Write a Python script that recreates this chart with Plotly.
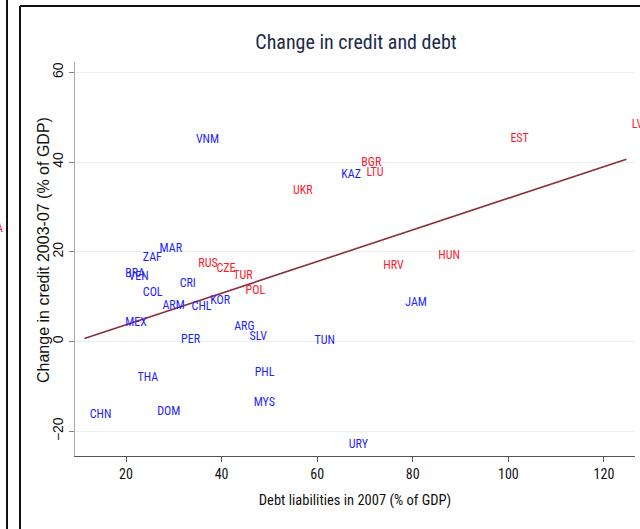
import numpy as np
import plotly.graph_objects as go

# Country codes, debt liabilities 2007 (% of GDP) and credit change 2003-07 (% of GDP)
countries = ["VNM", "EST", "LVA", "BGR", "KAZ", "LTU", "UKR", "MAR", "ZAF", "BRA",
             "VEN", "CRI", "COL", "RUS", "CZE", "TUR", "POL", "ARM", "CHL", "KOR",
             "MEX", "ARG", "SLV", "PER", "HRV", "HUN", "JAM", "THA", "PHL", "MYS",
             "CHN", "DOM", "TUN", "URY"]
debt_2007 = [33.5, 99.3, 124.7, 68.1, 63.9, 69.2, 53.8, 25.9, 22.4, 18.7,
             19.4, 30.1, 22.4, 34.0, 37.8, 41.3, 43.9, 26.5, 32.6, 36.5,
             18.7, 41.5, 44.7, 30.4, 72.7, 84.2, 77.3, 21.3, 45.8, 45.6,
             11.3, 25.4, 58.3, 65.5]
credit_change = [44.9, 45.2, 48.3, 39.7, 37.1, 37.5, 33.6, 20.6, 18.6, 15.0,
                 14.3, 12.9, 10.8, 17.3, 16.1, 14.7, 11.3, 7.9, 7.8, 9.1,
                 4.2, 3.2, 1.0, 0.4, 16.9, 19.1, 8.6, -8.2, -7.0, -13.6,
                 -16.3, -15.8, 0.2, -23.0]
# Emerging Europe group is drawn in red, the rest in blue
europe = {"EST", "LVA", "BGR", "LTU", "UKR", "RUS", "CZE", "TUR", "POL", "HRV", "HUN"}

x_ticks = [20, 40, 60, 80, 100, 120]
y_ticks = [-20, 0, 20, 40, 60]

BLUE = "#1f1fff"
RED = "#ff1a2e"
FIT = "#8a2f3d"
NARROW = "Roboto Condensed, Liberation Sans Narrow, Arial Narrow, DejaVu Sans Condensed, sans-serif"
REGULAR = "Liberation Sans, Arial, sans-serif"

W, H = 640, 529
L, R, T, B = 75, 5, 62, 73

fig = go.Figure()

x = np.array(debt_2007)
y = np.array(credit_change)

# Linear fit across the observed range
slope, intercept = np.polyfit(x, y, 1)
xf = np.array([x.min(), x.max()])
fig.add_trace(go.Scatter(x=xf, y=intercept + slope * xf, mode="lines",
                         line=dict(color=FIT, width=1.6), hoverinfo="skip",
                         showlegend=False))

for grp, col in [(True, RED), (False, BLUE)]:
    idx = [i for i, c in enumerate(countries) if (c in europe) == grp]
    fig.add_trace(go.Scatter(
        x=[debt_2007[i] for i in idx],
        y=[credit_change[i] for i in idx],
        text=[countries[i] for i in idx],
        mode="markers+text",
        marker=dict(size=7, color="rgba(0,0,0,0)"),
        textposition="middle right",
        textfont=dict(family=NARROW, size=12, color=col),
        cliponaxis=False,
        showlegend=False,
    ))

pw = W - L - R
ph = H - T - B


def px_x(p):
    return (p - L) / pw


def px_y(p):
    return (H - B - p) / ph


frame = dict(type="line", xref="paper", yref="paper", line=dict(color="#111111", width=2))
shapes = [
    dict(frame, x0=px_x(7), x1=px_x(7), y0=px_y(0), y1=px_y(H)),
    dict(frame, x0=px_x(20), x1=px_x(20), y0=px_y(6), y1=px_y(H)),
    dict(frame, x0=px_x(20), x1=px_x(W), y0=px_y(6), y1=px_y(6)),
]

fig.update_layout(
    width=W, height=H,
    margin=dict(l=L, r=R, t=T, b=B),
    paper_bgcolor="white", plot_bgcolor="white",
    title=dict(text="Change in credit and debt", x=(356) / W, xanchor="center",
               y=1 - 42 / H, yanchor="middle",
               font=dict(family=NARROW, size=20, color="#1c2a48")),
    shapes=shapes,
    xaxis=dict(range=[9.33, 126.5], tickvals=x_ticks, ticks="outside", ticklen=5,
               tickcolor="#555555", showline=True, linecolor="#555555", linewidth=1,
               showgrid=False, zeroline=False,
               tickfont=dict(family=NARROW, size=14, color="#111111"),
               title=dict(text="Debt liabilities in 2007 (% of GDP)", standoff=14,
                          font=dict(family=NARROW, size=14.5, color="#111111"))),
    yaxis=dict(range=[-25.5, 62.3], tickvals=y_ticks, ticks="outside", ticklen=5,
               tickcolor="#888888", showline=True, linecolor="#aaaaaa", linewidth=1,
               showgrid=True, gridcolor="#e8eef2", gridwidth=1, zeroline=False,
               tickangle=-90,
               tickfont=dict(family=REGULAR, size=14, color="#111111")),
)

# Vertical axis title, placed beside the rotated tick labels
fig.add_annotation(text="Change in credit 2003-07 (% of GDP)", xref="paper", yref="paper",
                   x=px_x(43), y=px_y(250), xanchor="center", yanchor="middle",
                   textangle=-90, showarrow=False,
                   font=dict(family=REGULAR, size=16, color="#111111"))

# Fragment of a neighbouring label cut by the left edge
fig.add_annotation(text="LVA", xref="paper", yref="paper", x=px_x(5), y=px_y(228),
                   xanchor="right", yanchor="middle", showarrow=False,
                   font=dict(family=NARROW, size=12, color=RED))

fig.write_html("out.html")
